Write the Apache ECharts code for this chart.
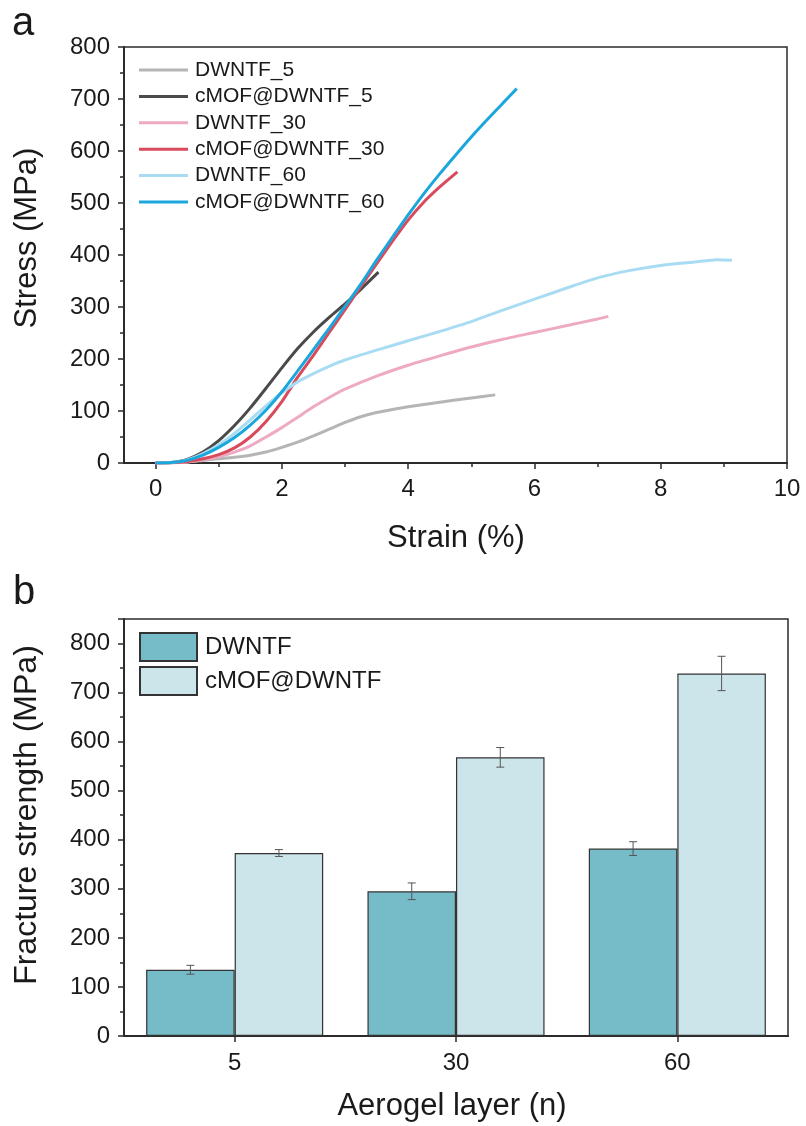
<!DOCTYPE html>
<html>
<head>
<meta charset="utf-8">
<title>Stress-strain and fracture strength</title>
<script src="https://cdn.jsdelivr.net/npm/echarts@6/dist/echarts.min.js"></script>
<style>
  html, body { margin: 0; padding: 0; background: #fff; }
  #chart { width: 806px; height: 1126px; }
</style>
</head>
<body>
<div id="chart"></div>
<script>
// ---- (a) stress-strain curves: [strain %, stress MPa] ----
const dwntf5 = [[0,0],[0.25,0.5],[0.5,2],[0.75,5],[1,8],[1.25,11],[1.5,15],[1.75,21],[2,30],[2.25,40],[2.5,52],[2.75,65],[3,78],[3.25,89],[3.5,97],[3.75,103],[4,108],[4.5,117],[5,125],[5.38,131]];
const cmofDwntf5 = [[0,0],[0.25,1],[0.5,7],[0.75,21],[1,43],[1.25,72],[1.5,106],[1.75,144],[2,183],[2.25,220],[2.5,252],[2.75,280],[3,306],[3.25,334],[3.53,367]];
const dwntf30 = [[0,0],[0.25,0.5],[0.5,2],[0.75,6],[1,12],[1.25,21],[1.5,33],[1.75,50],[2,68],[2.25,88],[2.5,108],[2.75,126],[3,142],[3.5,167],[4,188],[4.5,206],[5,223],[5.5,238],[6,251],[6.5,264],[7,277],[7.17,282]];
const cmofDwntf30 = [[0,0],[0.25,0.5],[0.5,3],[0.75,8],[1,16],[1.25,29],[1.5,50],[1.75,80],[2,118],[2.25,165],[2.5,207],[2.75,251],[3,295],[3.25,339],[3.5,383],[3.75,426],[4,467],[4.25,502],[4.5,531],[4.78,560]];
const dwntf60 = [[0,0],[0.25,1],[0.5,6],[0.75,18],[1,35],[1.25,57],[1.5,83],[1.75,110],[2,135],[2.25,156],[2.5,172],[2.75,186],[3,198],[3.5,217],[4,235],[4.5,253],[5,272],[5.5,294],[6,315],[6.5,336],[7,356],[7.5,370],[8,380],[8.5,386],[8.9,391],[9.13,390]];
const cmofDwntf60 = [[0,0],[0.25,1],[0.5,5],[0.75,15],[1,30],[1.25,49],[1.5,73],[1.75,102],[2,137],[2.25,177],[2.5,218],[2.75,259],[3,301],[3.25,344],[3.5,390],[3.75,434],[4,477],[4.25,518],[4.5,556],[4.75,592],[5,627],[5.25,660],[5.5,692],[5.72,720]];

const curveNames = ['DWNTF_5','cMOF@DWNTF_5','DWNTF_30','cMOF@DWNTF_30','DWNTF_60','cMOF@DWNTF_60'];
const curveColors = ['#b5b5b5','#4a4a4a','#eeaac3','#d84a5c','#a9dcf3','#1ba7dc'];
const curves = [dwntf5, cmofDwntf5, dwntf30, cmofDwntf30, dwntf60, cmofDwntf60];

const strainMajorTicks = [0,2,4,6,8,10];
const strainMinorTicks = [1,3,5,7,9];

// ---- (b) fracture strength per aerogel layer count ----
const layers = ['5','30','60'];
const dwntfStrength = [135, 295, 382];
const dwntfError = [9, 17, 14];
const cmofStrength = [373, 568, 739];
const cmofError = [7, 20, 35];

const FONT = '"Liberation Sans", Arial, Helvetica, sans-serif';
const INK = '#1a1a1a';
const AXIS = '#2b2b2b';

const chart = echarts.init(document.getElementById('chart'), null, { renderer: 'canvas' });

function errorBars(offsetSign) {
  return function (params, api) {
    const idx = api.value(0);
    const v = api.value(1);
    const e = api.value(2);
    const band = api.size([1, 0])[0];
    const bw = band * 0.8 / 2;
    const x = api.coord([idx, v])[0] + offsetSign * bw / 2;
    const yTop = api.coord([idx, v + e])[1];
    const yBot = api.coord([idx, v - e])[1];
    const cap = 4;
    const st = { stroke: '#555', lineWidth: 1 };
    return {
      type: 'group',
      children: [
        { type: 'line', shape: { x1: x, y1: yTop, x2: x, y2: yBot }, style: st },
        { type: 'line', shape: { x1: x - cap, y1: yTop, x2: x + cap, y2: yTop }, style: st },
        { type: 'line', shape: { x1: x - cap, y1: yBot, x2: x + cap, y2: yBot }, style: st }
      ]
    };
  };
}

const lineSeries = curves.map((d, i) => ({
  name: curveNames[i],
  type: 'line',
  xAxisIndex: 0,
  yAxisIndex: 0,
  data: d,
  smooth: 0.2,
  symbol: 'none',
  showSymbol: false,
  lineStyle: { color: curveColors[i], width: 3 },
  itemStyle: { color: curveColors[i] },
  z: i === 5 ? 4 : 3
}));

const option = {
  backgroundColor: '#fff',
  animation: false,
  textStyle: { fontFamily: FONT, color: INK },
  grid: [
    { left: 124, top: 47, width: 663, height: 416, show: true, borderColor: AXIS, borderWidth: 1.5, backgroundColor: 'transparent' },
    { left: 124, top: 619, width: 664, height: 417, show: true, borderColor: AXIS, borderWidth: 1.5, backgroundColor: 'transparent' }
  ],
  legend: [
    {
      data: curveNames,
      orient: 'vertical',
      left: 139,
      top: 59,
      padding: 0,
      icon: 'rect',
      itemWidth: 49,
      itemHeight: 3,
      itemGap: 4.4,
      textStyle: { fontFamily: FONT, fontSize: 21, lineHeight: 22, color: INK, padding: [0, 0, 0, 2] }
    },
    {
      data: ['DWNTF', 'cMOF@DWNTF'],
      orient: 'vertical',
      left: 139,
      top: 632,
      padding: 0,
      itemWidth: 57,
      itemHeight: 28,
      itemGap: 4,
      icon: 'rect',
      textStyle: { fontFamily: FONT, fontSize: 24, color: INK, padding: [0, 0, 0, 3] }
    }
  ],
  xAxis: [
    {
      gridIndex: 0, type: 'value', min: -0.5, max: 10,
      axisLine: { show: true, onZero: false, lineStyle: { color: AXIS, width: 2 } },
      axisTick: { show: true, inside: false, length: 6, customValues: strainMajorTicks, lineStyle: { color: AXIS, width: 1.5 } },
      axisLabel: { customValues: strainMajorTicks, fontSize: 24, color: INK, margin: 14, fontFamily: FONT },
      splitLine: { show: false }
    },
    {
      gridIndex: 0, type: 'value', min: -0.5, max: 10, position: 'bottom',
      axisLine: { show: false, onZero: false },
      axisTick: { show: true, inside: false, length: 4, customValues: strainMinorTicks, lineStyle: { color: AXIS, width: 1.5 } },
      axisLabel: { show: false },
      splitLine: { show: false }
    },
    {
      gridIndex: 1, type: 'category', data: layers,
      axisLine: { show: true, onZero: false, lineStyle: { color: AXIS, width: 2 } },
      axisTick: { show: true, alignWithLabel: true, inside: false, length: 6, lineStyle: { color: AXIS, width: 1.5 } },
      axisLabel: { fontSize: 24, color: INK, margin: 15, fontFamily: FONT },
      splitLine: { show: false }
    }
  ],
  yAxis: [
    {
      gridIndex: 0, type: 'value', min: 0, max: 800, interval: 100,
      axisLine: { show: true, onZero: false, lineStyle: { color: AXIS, width: 2 } },
      axisTick: { show: true, inside: false, length: 6, lineStyle: { color: AXIS, width: 1.5 } },
      minorTick: { show: true, splitNumber: 2, length: 4, lineStyle: { color: AXIS, width: 1.5 } },
      axisLabel: { fontSize: 24, color: INK, margin: 14, fontFamily: FONT },
      splitLine: { show: false }
    },
    {
      gridIndex: 1, type: 'value', min: 0, max: 850, interval: 100,
      axisLine: { show: true, onZero: false, lineStyle: { color: AXIS, width: 2 } },
      axisTick: { show: true, inside: false, length: 6, lineStyle: { color: AXIS, width: 1.5 } },
      minorTick: { show: true, splitNumber: 2, length: 4, lineStyle: { color: AXIS, width: 1.5 } },
      axisLabel: {
        fontSize: 24, color: INK, margin: 14, fontFamily: FONT,
        formatter: v => (v % 100 === 0 ? String(v) : '')
      },
      splitLine: { show: false }
    }
  ],
  series: lineSeries.concat([
    {
      name: 'DWNTF', type: 'bar', xAxisIndex: 2, yAxisIndex: 1,
      data: dwntfStrength, barGap: '0%', barCategoryGap: '20%',
      itemStyle: { color: '#76bcc8', borderColor: '#333', borderWidth: 1.2 }
    },
    {
      name: 'cMOF@DWNTF', type: 'bar', xAxisIndex: 2, yAxisIndex: 1,
      data: cmofStrength, barGap: '0%', barCategoryGap: '20%',
      itemStyle: { color: '#cce5ea', borderColor: '#333', borderWidth: 1.2 }
    },
    {
      type: 'custom', xAxisIndex: 2, yAxisIndex: 1, z: 5,
      renderItem: errorBars(-1),
      data: dwntfStrength.map((v, i) => [i, v, dwntfError[i]])
    },
    {
      type: 'custom', xAxisIndex: 2, yAxisIndex: 1, z: 5,
      renderItem: errorBars(1),
      data: cmofStrength.map((v, i) => [i, v, cmofError[i]])
    }
  ]),
  graphic: [
    { type: 'text', left: 12, top: 4, style: { text: 'a', font: '40px ' + FONT, fill: INK } },
    { type: 'text', left: 13, top: 573, style: { text: 'b', font: '40px ' + FONT, fill: INK } },
    {
      type: 'text', x: 27, y: 238, rotation: Math.PI / 2,
      style: { text: 'Stress (MPa)', font: '31px ' + FONT, fill: INK, align: 'center', verticalAlign: 'middle' }
    },
    {
      type: 'text', x: 456, y: 538,
      style: { text: 'Strain (%)', font: '31px ' + FONT, fill: INK, align: 'center', verticalAlign: 'middle' }
    },
    {
      type: 'text', x: 27, y: 815, rotation: Math.PI / 2,
      style: { text: 'Fracture strength (MPa)', font: '32px ' + FONT, fill: INK, align: 'center', verticalAlign: 'middle' }
    },
    {
      type: 'text', x: 452, y: 1106,
      style: { text: 'Aerogel layer (n)', font: '31px ' + FONT, fill: INK, align: 'center', verticalAlign: 'middle' }
    }
  ]
};

chart.setOption(option);
</script>
</body>
</html>
